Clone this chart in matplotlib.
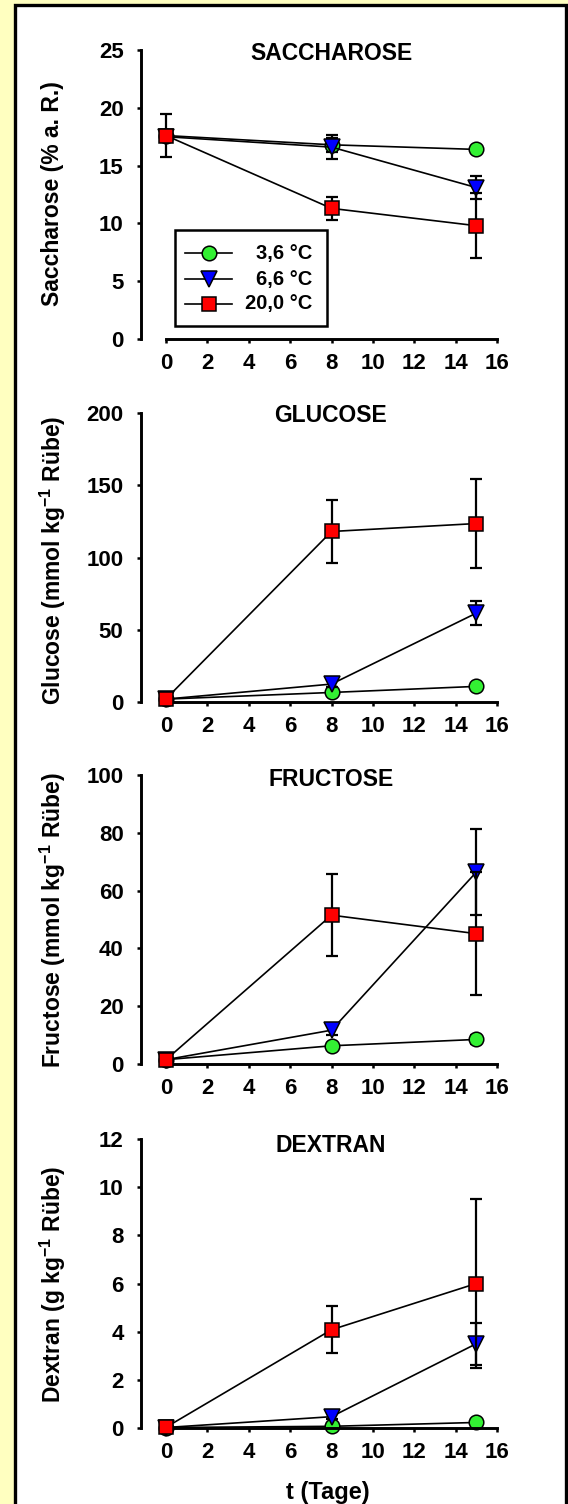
import matplotlib
matplotlib.use("Agg")
import matplotlib.pyplot as plt
from matplotlib.patches import Rectangle
from matplotlib.lines import Line2D

plt.rcParams['font.family'] = ['Liberation Sans', 'DejaVu Sans']
plt.rcParams['font.weight'] = 'bold'
plt.rcParams['mathtext.fontset'] = 'custom'
plt.rcParams['mathtext.rm'] = 'Liberation Sans:bold'
plt.rcParams['mathtext.it'] = 'Liberation Sans:bold'
plt.rcParams['mathtext.bf'] = 'Liberation Sans:bold'
plt.rcParams['mathtext.default'] = 'rm'

# ---------------- data ----------------
t = [0, 8, 15]
series_labels = ["3,6 °C", "6,6 °C", "20,0 °C"]

sac_36 = [17.6, 16.8, 16.4]
sac_36_err = [0.3, 0.6, 0.3]
sac_66 = [17.5, 16.6, 13.1]
sac_66_err = [0.4, 1.05, 1.0]
sac_20 = [17.6, 11.3, 9.8]
sac_20_err = [1.85, 1.0, 2.8]

glu_36 = [2.0, 6.6, 10.8]
glu_36_err = [0.5, 1.0, 1.0]
glu_66 = [2.0, 12.4, 61.5]
glu_66_err = [0.5, 2.0, 8.5]
glu_20 = [2.2, 118.0, 123.5]
glu_20_err = [0.5, 21.5, 30.5]

fru_36 = [1.5, 6.3, 8.5]
fru_36_err = [0.3, 1.0, 1.5]
fru_66 = [1.5, 11.7, 66.4]
fru_66_err = [0.3, 1.5, 15.0]
fru_20 = [1.5, 51.5, 45.1]
fru_20_err = [0.3, 14.3, 21.3]

dex_36 = [0.02, 0.07, 0.23]
dex_36_err = [0.0, 0.05, 0.05]
dex_66 = [0.02, 0.47, 3.5]
dex_66_err = [0.02, 0.1, 0.88]
dex_20 = [0.03, 4.08, 6.0]
dex_20_err = [0.02, 0.98, 3.5]

titles = ["SACCHAROSE", "GLUCOSE", "FRUCTOSE", "DEXTRAN"]
ylabels = ["Saccharose (% a. R.)",
           r"Glucose (mmol kg$^{-1}$ Rübe)",
           r"Fructose (mmol kg$^{-1}$ Rübe)",
           r"Dextran (g kg$^{-1}$ Rübe)"]
ymaxs = [25, 200, 100, 12]
ysteps = [5, 50, 20, 2]
xticks = [0, 2, 4, 6, 8, 10, 12, 14, 16]
xlabel = "t (Tage)"

panels = [
    [(sac_36, sac_36_err), (sac_66, sac_66_err), (sac_20, sac_20_err)],
    [(glu_36, glu_36_err), (glu_66, glu_66_err), (glu_20, glu_20_err)],
    [(fru_36, fru_36_err), (fru_66, fru_66_err), (fru_20, fru_20_err)],
    [(dex_36, dex_36_err), (dex_66, dex_66_err), (dex_20, dex_20_err)],
]

# ---------------- style ----------------
colors = ['#33F033', '#0000FF', '#FF0000']
markers = ['o', 'v', 's']
msizes = [10.5, 11, 9.5]

W, H = 568, 1504
fig = plt.figure(figsize=(W / 100, H / 100), dpi=100, facecolor='#FFFFC0')


def fx(px):
    return px / W


def fy(py):
    return 1 - py / H


# white panel with black border
fig.patches.append(Rectangle((fx(15), fy(H + 20)), fx(566) - fx(15), fy(5) - fy(H + 20),
                             transform=fig.transFigure, facecolor='white',
                             edgecolor='black', lw=2.4, zorder=-5))

tops = [50, 413, 775, 1139]
ax_h = 289
ax_left, ax_right = 140.5, 497
x0_px = 166
xlo = -(x0_px - ax_left) / ((ax_right - x0_px) / 16)

title_y = [53, 415, 779, 1145]
ylabel_y = [194, 560, 920, 1284]

for i, top in enumerate(tops):
    ax = fig.add_axes([fx(ax_left), fy(top + ax_h), fx(ax_right) - fx(ax_left), ax_h / H])
    ax.set_facecolor('none')
    ymax = ymaxs[i]
    ax.set_xlim(xlo, 16)
    ax.set_ylim(0, ymax)
    for s in ['top', 'right']:
        ax.spines[s].set_visible(False)
    ax.spines['left'].set_bounds(0, ymax)
    ax.spines['bottom'].set_bounds(0, 16)
    ax.spines['left'].set_linewidth(2.1)
    ax.spines['bottom'].set_linewidth(2.1)
    ax.set_xticks(xticks)
    ax.set_yticks(list(range(0, ymax + 1, ysteps[i])))
    ax.tick_params(axis='both', direction='out', length=3.2, width=1.8, labelsize=16)
    ax.tick_params(axis='x', pad=7)
    ax.tick_params(axis='y', pad=9)
    for lab in ax.get_xticklabels() + ax.get_yticklabels():
        lab.set_fontweight('bold')

    for k, (vals, errs) in enumerate(panels[i]):
        ax.errorbar(t, vals, yerr=errs, fmt='none', ecolor='black', elinewidth=1.6,
                    capsize=4.5, capthick=1.6, zorder=2 + k, clip_on=False)
        ax.plot(t, vals, color='black', lw=1.2, marker=markers[k], markersize=msizes[k],
                markerfacecolor=colors[k], markeredgecolor='black', markeredgewidth=1.1,
                zorder=2.5 + k, clip_on=False)

    fig.text(fx(331), fy(title_y[i]), titles[i], ha='center', va='center',
             fontsize=16.5, fontweight='bold')
    fig.text(fx(53), fy(ylabel_y[i]), ylabels[i], ha='center', va='center',
             rotation=90, fontsize=16.5, fontweight='bold')

    if i == 0:
        # legend box
        fig.patches.append(Rectangle((fx(175), fy(326)), fx(327) - fx(175), fy(230) - fy(326),
                                     transform=fig.transFigure, facecolor='white',
                                     edgecolor='black', lw=1.8, zorder=5))
        rows = [253, 279, 304]
        for k in range(3):
            fig.lines.append(Line2D([fx(185), fx(232)], [fy(rows[k]), fy(rows[k])],
                                    transform=fig.transFigure, color='black', lw=1.2, zorder=6))
            fig.lines.append(Line2D([fx(208.5)], [fy(rows[k])], transform=fig.transFigure,
                                    marker=markers[k], markersize=msizes[k], linestyle='none',
                                    markerfacecolor=colors[k], markeredgecolor='black',
                                    markeredgewidth=1.1, zorder=7))
            fig.text(fx(312), fy(rows[k]), series_labels[k], ha='right', va='center',
                     fontsize=14.5, fontweight='bold', zorder=8)

fig.text(fx(328), fy(1492), xlabel, ha='center', va='center', fontsize=17, fontweight='bold')

fig.savefig('out.png', dpi=100, facecolor=fig.get_facecolor())
